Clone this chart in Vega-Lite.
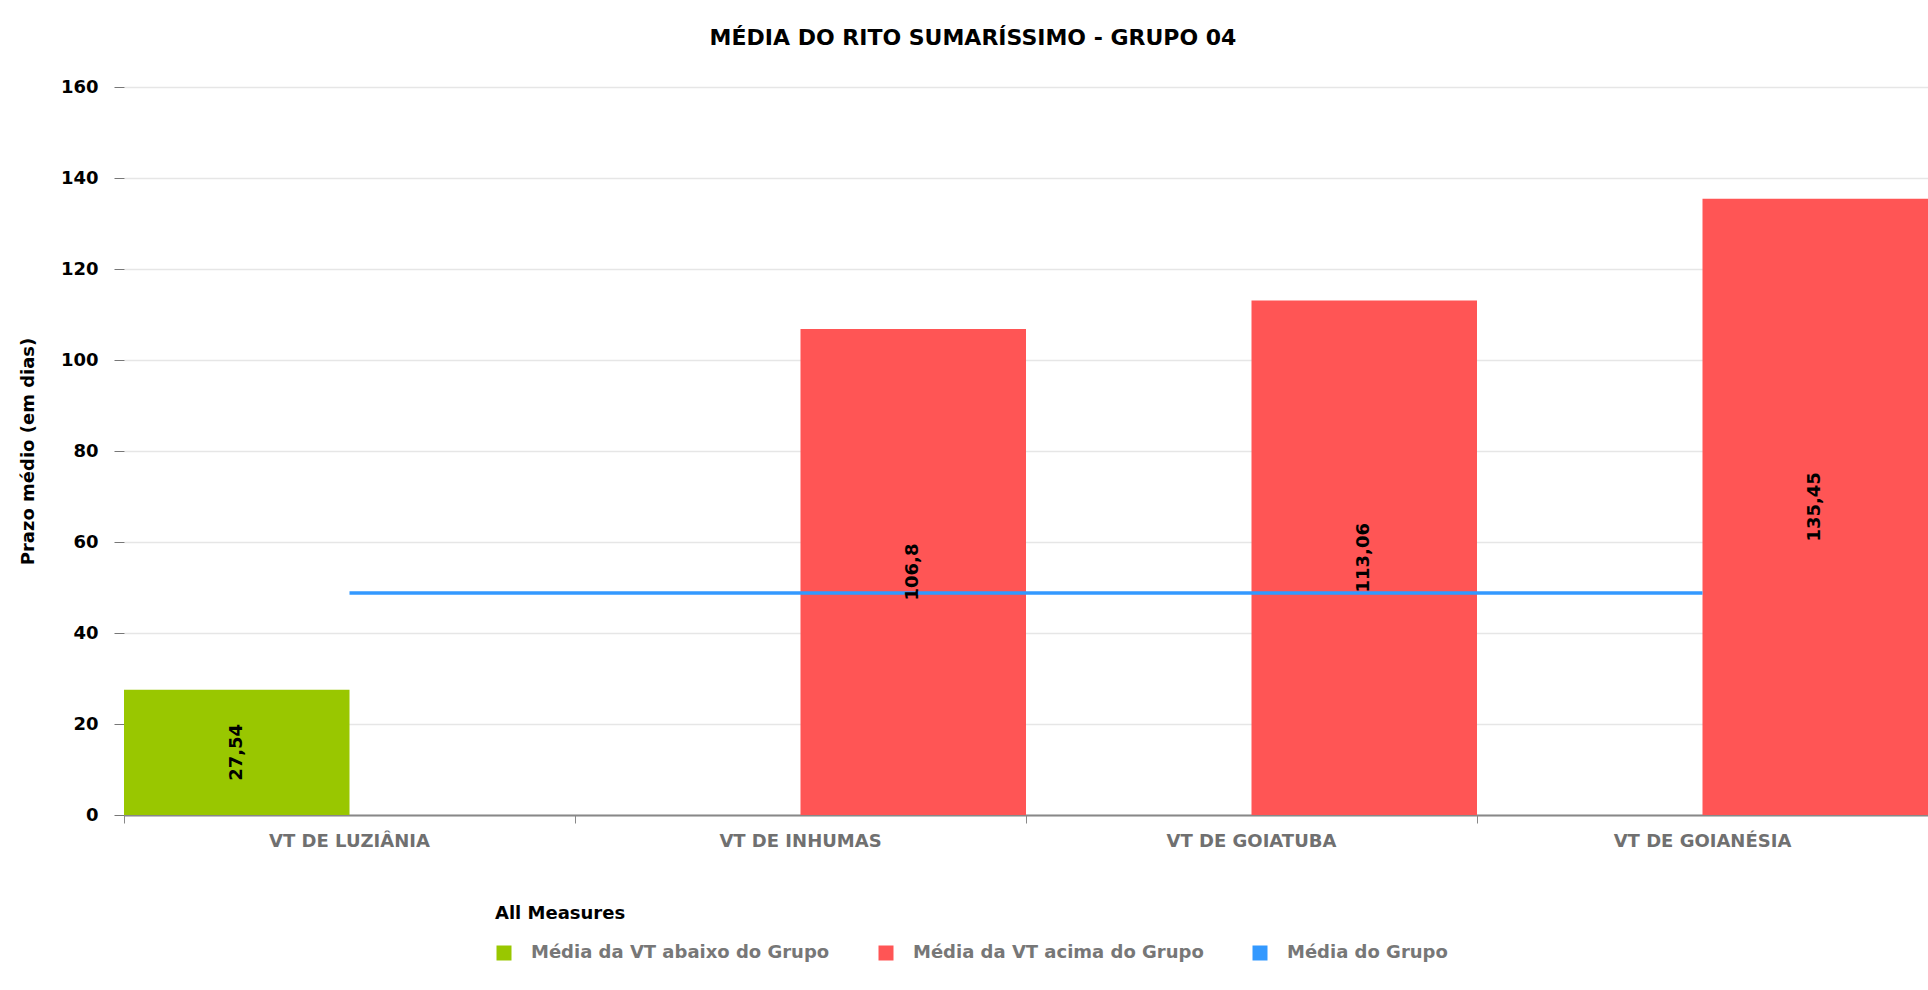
{
  "$schema": "https://vega.github.io/schema/vega-lite/v6.json",
  "autosize": {"type": "none"},
  "padding": {"left": 124, "top": 87, "right": 0, "bottom": 175},
  "width": 1804,
  "height": 728,
  "background": "white",
  "config": {
    "locale": {"number": {"decimal": ",", "thousands": ".", "grouping": [3], "currency": ["R$", ""]}},
    "view": {"stroke": null},
    "font": "DejaVu Sans"
  },
  "title": {
    "text": "MÉDIA DO RITO SUMARÍSSIMO - GRUPO 04",
    "anchor": "middle",
    "frame": "group",
    "dx": -53,
    "offset": 28,
    "font": "DejaVu Sans",
    "fontSize": 22,
    "fontWeight": "bold",
    "color": "#000000"
  },
  "data": {
    "values": [
      {"vt": "VT DE LUZIÂNIA", "serie": "Média da VT abaixo do Grupo", "valor": 27.54},
      {"vt": "VT DE INHUMAS", "serie": "Média da VT acima do Grupo", "valor": 106.8},
      {"vt": "VT DE GOIATUBA", "serie": "Média da VT acima do Grupo", "valor": 113.06},
      {"vt": "VT DE GOIANÉSIA", "serie": "Média da VT acima do Grupo", "valor": 135.45},
      {"vt": "VT DE LUZIÂNIA", "serie": "Média do Grupo", "valor": 48.8},
      {"vt": "VT DE INHUMAS", "serie": "Média do Grupo", "valor": 48.8},
      {"vt": "VT DE GOIATUBA", "serie": "Média do Grupo", "valor": 48.8},
      {"vt": "VT DE GOIANÉSIA", "serie": "Média do Grupo", "valor": 48.8}
    ]
  },
  "encoding": {
    "x": {
      "field": "vt",
      "type": "nominal",
      "sort": ["VT DE LUZIÂNIA", "VT DE INHUMAS", "VT DE GOIATUBA", "VT DE GOIANÉSIA"],
      "scale": {"paddingInner": 0, "paddingOuter": 0},
      "axis": {
        "title": null,
        "bandPosition": 0,
        "labelAngle": 0,
        "labelFont": "DejaVu Sans",
        "labelFontSize": 18,
        "labelFontWeight": "bold",
        "labelColor": "#707070",
        "labelPadding": 9,
        "tickSize": 8,
        "tickColor": "#888888",
        "tickWidth": 1,
        "domainColor": "#888888",
        "domainWidth": 2,
        "grid": false
      }
    }
  },
  "layer": [
    {
      "transform": [{"filter": "datum.serie != 'Média do Grupo'"}],
      "mark": {"type": "bar", "strokeWidth": 0},
      "encoding": {
        "xOffset": {
          "field": "serie",
          "type": "nominal",
          "scale": {"domain": ["Média da VT abaixo do Grupo", "Média da VT acima do Grupo"], "paddingInner": 0, "paddingOuter": 0}
        },
        "y": {
          "field": "valor",
          "type": "quantitative",
          "scale": {"domain": [0, 160], "nice": false},
          "axis": {
            "title": "Prazo médio (em dias)",
            "titleFont": "DejaVu Sans",
            "titleFontSize": 18,
            "titleFontWeight": "bold",
            "titleColor": "#000000",
            "titlePadding": 23,
            "values": [0, 20, 40, 60, 80, 100, 120, 140, 160],
            "format": "d",
            "labelFont": "DejaVu Sans",
            "labelFontSize": 18,
            "labelFontWeight": "bold",
            "labelColor": "#000000",
            "labelPadding": 16,
            "tickSize": 10,
            "tickColor": "#777777",
            "domain": false,
            "grid": true,
            "gridColor": "#e6e6e6",
            "gridWidth": 1.5
          }
        },
        "color": {
          "field": "serie",
          "type": "nominal",
          "scale": {
            "domain": ["Média da VT abaixo do Grupo", "Média da VT acima do Grupo", "Média do Grupo"],
            "range": ["#99c700", "#ff5555", "#3399ff"]
          },
          "legend": {
            "title": "All Measures",
            "orient": "none",
            "legendX": 371,
            "legendY": 818,
            "direction": "horizontal",
            "titleFont": "DejaVu Sans",
            "titleFontSize": 18,
            "titleFontWeight": "bold",
            "titleColor": "#000000",
            "titlePadding": 21,
            "labelFont": "DejaVu Sans",
            "labelFontSize": 18,
            "labelFontWeight": "bold",
            "labelColor": "#777777",
            "labelLimit": 600,
            "labelOffset": 18,
            "symbolType": "square",
            "symbolSize": 225,
            "symbolStrokeWidth": 0,
            "symbolOpacity": 1,
            "columnPadding": 47
          }
        }
      }
    },
    {
      "transform": [{"filter": "datum.serie == 'Média do Grupo'"}],
      "mark": {"type": "line", "color": "#3399ff", "strokeWidth": 3.5},
      "encoding": {
        "y": {
          "field": "valor",
          "type": "quantitative",
          "scale": {"domain": [0, 160], "nice": false},
          "axis": null
        }
      }
    },
    {
      "transform": [{"filter": "datum.serie != 'Média do Grupo'"}],
      "mark": {"type": "text", "angle": -90, "align": "center", "baseline": "middle", "font": "DejaVu Sans", "fontSize": 18, "fontWeight": "bold", "color": "#000000"},
      "encoding": {
        "xOffset": {"field": "serie", "type": "nominal"},
        "y": {
          "field": "valor",
          "type": "quantitative",
          "scale": {"domain": [0, 320], "nice": false},
          "axis": null
        },
        "text": {"field": "valor", "type": "quantitative", "format": ".2~f"}
      }
    }
  ],
  "resolve": {"scale": {"y": "independent"}}
}
